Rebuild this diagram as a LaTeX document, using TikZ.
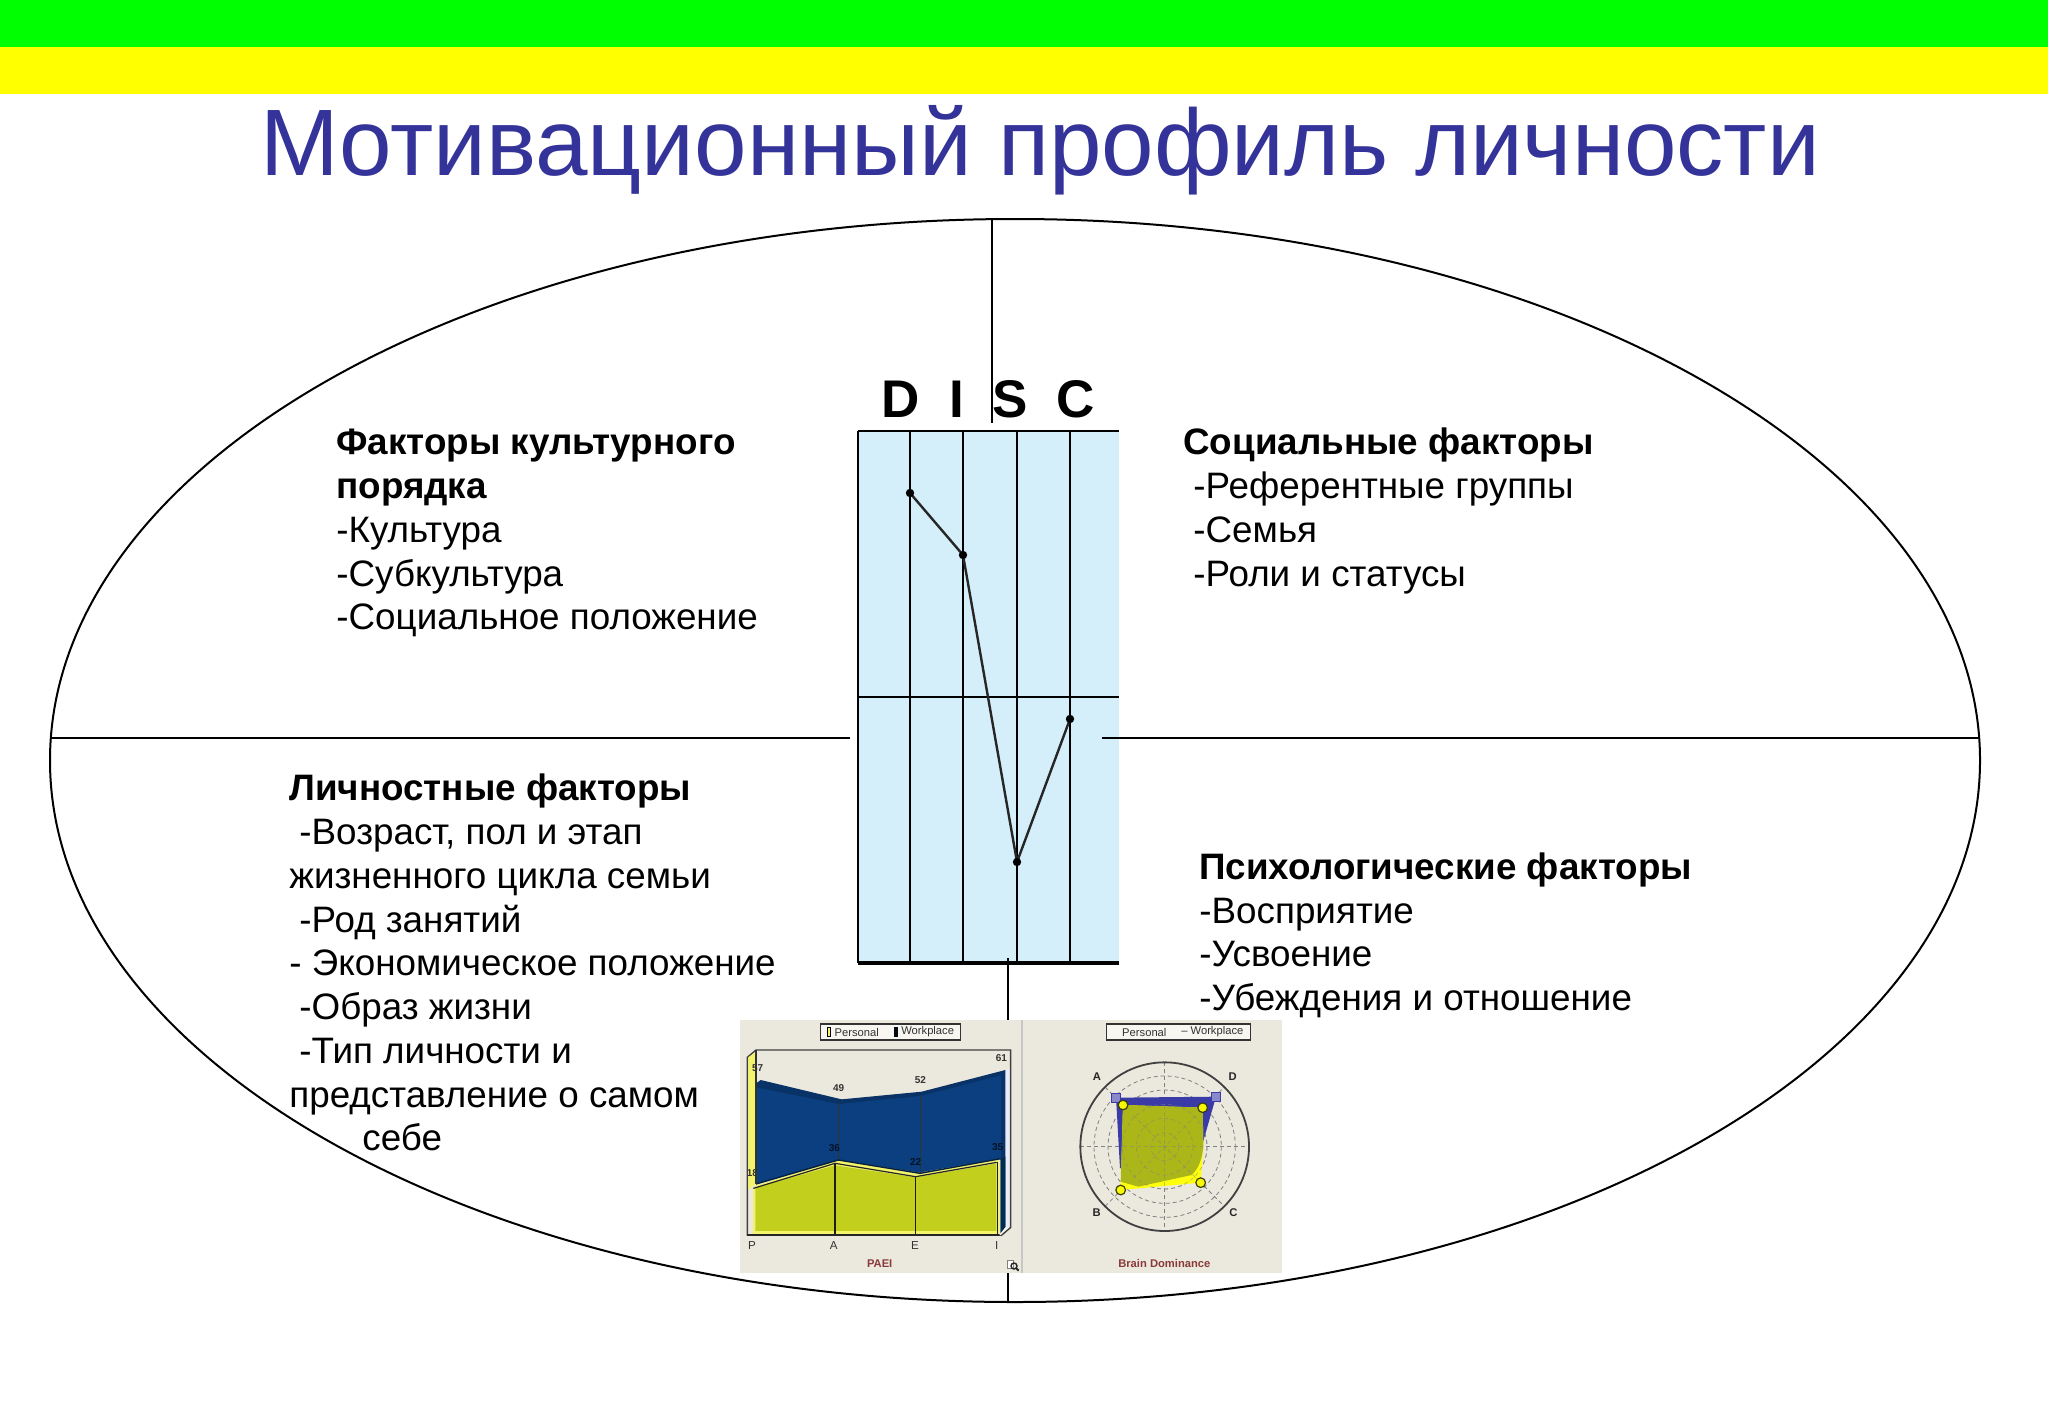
\documentclass[tikz,border=0pt]{standalone}
\usepackage{fontspec}
\setmainfont{Liberation Sans}
\definecolor{titleblue}{HTML}{333399}
\definecolor{discblue}{HTML}{D4EFF9}
\definecolor{panel}{HTML}{EBE9DD}
\definecolor{navy}{HTML}{0B3F80}
\definecolor{olive}{HTML}{C2CF1C}
\definecolor{redlab}{HTML}{8A3A3A}
\definecolor{graytxt}{HTML}{333333}
\definecolor{radblue}{HTML}{3B3BA8}
\definecolor{bandgreen}{HTML}{00FF00}
\definecolor{bandyellow}{HTML}{FFFF00}
\definecolor{paleyellow}{HTML}{F4F46A}
\newcommand{\firstline}{\rule{0pt}{14pt}}
\tikzset{
  thinline/.style={black,line width=1pt},
  body/.style={anchor=north west,inner sep=0pt,align=left,font=\fontsize{18.4}{21.875}\selectfont},
  disc/.style={font=\fontsize{26.5}{30}\selectfont\bfseries,inner sep=0pt,text=black},
  smalllab/.style={font=\fontsize{5.6}{6}\selectfont,text=graytxt,inner sep=0pt},
  numlab/.style={font=\fontsize{5}{5.5}\selectfont\bfseries,text=black!80,inner sep=0pt},
  axlab/.style={font=\fontsize{5.8}{6}\selectfont,text=graytxt,inner sep=0pt},
  charttitle/.style={font=\fontsize{5.6}{6}\selectfont\bfseries,text=redlab,inner sep=0pt},
  ring/.style={black!50,line width=0.4pt,dash pattern=on 2pt off 1.5pt},
}
\begin{document}
\begin{tikzpicture}[x=0.5pt,y=-0.5pt]
\useasboundingbox (0,0) rectangle (2048,1413);
\fill[white] (0,0) rectangle (2048,1413);
% top bands
\fill[bandgreen] (0,0) rectangle (2048,47);
\fill[bandyellow] (0,47) rectangle (2048,94);
% title
\node[name=title,anchor=base,inner sep=0pt,text=titleblue,font=\fontsize{47.2}{50}\selectfont] at (1040,175) {Мотивационный профиль личности};
% ellipse
\draw[thinline] (1015,760.5) ellipse [x radius=965, y radius=541.5];
% DISC panel
\fill[discblue] (858,431) rectangle (1119,963);
\draw[thinline] (858,431) -- (1119,431);
\draw[thinline] (858,697) -- (1119,697);
\draw[black,line width=1.2pt] (858,431) -- (858,963);
\foreach \xx in {910,963,1017,1070} \draw[thinline] (\xx,431) -- (\xx,963);
\draw[black,line width=2.2pt] (858,963) -- (1119,963);
\draw[black!85,line width=1.2pt] (910,493) coordinate (pd) -- (963,555) coordinate (pi) -- (1017,862) coordinate (ps) -- (1070,719) coordinate (pc);
\foreach \p in {pd,pi,ps,pc} \fill[black] (\p) circle [radius=4.2];
% axes
\draw[thinline] (50,738) coordinate (hl) -- (850,738) coordinate (hlend);
\draw[thinline] (1102,738) coordinate (hr) -- (1980,738) coordinate (hrend);
\draw[thinline] (992,219) coordinate (vt) -- (992,423) coordinate (vtend);
\draw[thinline] (1008,958) coordinate (vb) -- (1008,1302) coordinate (vbend);
\node[disc,name=dD] at (901,399) {D};
\node[disc,name=dI] at (957,399) {I};
\node[disc,name=dS] at (1010,399) {S};
\node[disc,name=dC] at (1076,399) {C};
% text blocks
\node[body,name=tl] at (336,426.5) {\firstline\textbf{Факторы культурного}\\\textbf{порядка}\\-Культура\\-Субкультура\\-Социальное положение};
\node[body,name=tr] at (1183,426.5) {\firstline\textbf{Социальные факторы}\\\hspace*{5pt}-Референтные группы\\\hspace*{5pt}-Семья\\\hspace*{5pt}-Роли и статусы};
\node[body,name=bl] at (289,772.5) {\firstline\textbf{Личностные факторы}\\\hspace*{5pt}-Возраст, пол и этап\\жизненного цикла семьи\\\hspace*{5pt}-Род занятий\\- Экономическое положение\\\hspace*{5pt}-Образ жизни\\\hspace*{5pt}-Тип личности и\\представление о самом\\\hspace*{36.5pt}себе};
\node[body,name=br] at (1199,851) {\firstline\textbf{Психологические факторы}\\-Восприятие\\-Усвоение\\-Убеждения и отношение};
% PAEI chart
\fill[panel] (740,1020) rectangle (1022,1273);
\fill[black!22] (1021,1020) rectangle (1023,1273);
\begin{scope}[shift={(730,1000)},scale=1/3]
  \draw[black!75,line width=0.7pt] (52,172) -- (78,150) -- (842,150) -- (842,682) -- (815,705) -- (52,705) -- cycle;
  \fill[paleyellow] (55,172) -- (78,155) -- (78,552) -- (55,570) -- cycle;
  \node[numlab,name=n18] at (67,518) {18};
  \fill[white!92!blue] (815,222) -- (838,205) -- (838,680) -- (815,700) -- cycle;
  \fill[navy!80!black] (78,250) -- (92,240) -- (335,298) -- (575,275) -- (826,210) -- (826,684) -- (812,700) -- (812,478) -- (570,520) -- (320,482) -- (78,552) -- cycle;
  \fill[navy] (78,262) -- (325,312) -- (572,288) -- (813,226) -- (813,478) -- (570,520) -- (320,482) -- (78,552) -- cycle;
  \fill[black!75!green!70!blue] (812,478) -- (826,470) -- (826,682) -- (812,698) -- cycle;
  \fill[paleyellow] (70,565) -- (80,556) -- (325,480) -- (568,518) -- (812,476) -- (800,487) -- (557,532) -- (315,496) -- cycle;
  \fill[paleyellow] (68,566) rectangle (76,702);
  \fill[olive] (76,563) -- (315,496) -- (557,532) -- (800,490) -- (800,700) -- (76,700) -- cycle;
  \fill[paleyellow] (70,692) -- (800,692) -- (800,702) -- (70,702) -- cycle;
  \fill[paleyellow] (800,490) -- (808,483) -- (808,700) -- (800,700) -- cycle;
  \draw[black!80,line width=0.7pt] (325,310) -- (325,482);
  \draw[black!80,line width=0.7pt] (572,285) -- (572,520);
  \draw[black!85!olive,line width=0.7pt] (315,490) -- (315,705);
  \draw[black!85!olive,line width=0.7pt] (557,530) -- (557,705);
  \draw[black!85!olive,line width=0.7pt] (802,487) -- (802,705);
  \draw[black!85,line width=0.9pt] (52,705) -- (815,705);
  \draw[black!85,line width=0.6pt] (70,565) -- (315,490) -- (557,530) -- (800,487);
  \draw[navy!50!black,line width=0.7pt] (78,552) -- (325,480) -- (570,520) -- (812,476);
  \draw[black!80,line width=0.7pt] (78,150) -- (78,552);
  \fill[panel!40!white] (815,705) -- (842,682) -- (826,682) -- (808,705) -- cycle;
  \draw[black!75,line width=0.6pt] (815,705) -- (842,682);
  \node[numlab,name=n57] at (83,203) {57};
  \node[numlab,name=n49] at (326,265) {49};
  \node[numlab,name=n52] at (571,240) {52};
  \node[numlab,name=n61] at (814,173) {61};
  \node[numlab,text=black!70!navy,name=n36] at (313,445) {36};
  \node[numlab,text=black!70!navy,name=n22] at (557,485) {22};
  \node[numlab,text=black!70!navy,name=n35] at (803,440) {35};
  % legend
  \draw[black!80,fill=panel!40!white,line width=0.6pt] (272,72) rectangle (692,120);
  \draw[black,fill=paleyellow,line width=0.5pt] (291,81) rectangle (301,110);
  \node[smalllab,name=lp] at (380,96) {Personal};
  \fill[black!85!navy] (491,81) rectangle (503,110);
  \node[smalllab,name=lw] at (593,96) {Workplace};
  % axis labels
  \node[axlab,name=aP] at (66,737) {P};
  \node[axlab,name=aA] at (311,737) {A};
  \node[axlab,name=aE] at (555,737) {E};
  \node[axlab,name=aI] at (800,737) {I};
  \node[charttitle,name=tp] at (449,790) {PAEI};
  % magnifier
  \draw[black!50,fill=white,line width=0.4pt] (832,780) rectangle (850,804);
  \draw[black!85,line width=0.7pt] (852,798) circle [radius=9];
  \draw[black!85,line width=0.9pt] (858,804) -- (866,812);
\end{scope}
% Brain chart
\fill[panel] (1023,1020) rectangle (1282,1273);
\begin{scope}[shift={(1010,1000)},scale=1/3]
  \draw[black!80,fill=panel!40!white,line width=0.6pt] (290,72) rectangle (722,120);
  \node[smalllab,name=rp] at (403,96) {Personal};
  \node[smalllab,name=rw] at (607,96) {– Workplace};
  \foreach \rr in {212,170,127,85,42} \draw[ring] (464,440) circle [radius=\rr];
  \draw[ring] (211,440) -- (717,440);
  \draw[ring] (464,187) -- (464,693);
  \draw[ring] (285,261) -- (643,619);
  \draw[ring] (285,619) -- (643,261);
  \draw[black!75,line width=0.9pt] (464,440) circle [radius=253];
  \fill[radblue] (318,293) -- (618,290) -- (578,430) -- (330,505) -- cycle;
  \fill[bandyellow!95!white] (339,315) -- (578,323) -- (580,440) -- (572,548) -- (332,570) -- cycle;
  \fill[olive!88!black] (339,315) -- (578,323) -- (580,440) .. controls (575,490) and (560,510) .. (545,525) -- (385,560) -- (332,545) -- cycle;
  \begin{scope}[opacity=0.45]
    \foreach \rr in {127,85,42} \draw[ring] (464,440) circle [radius=\rr];
    \draw[ring] (339,440) -- (580,440);
    \draw[ring] (464,315) -- (464,560);
    \draw[ring] (370,346) -- (560,536);
    \draw[ring] (370,534) -- (560,344);
  \end{scope}
  \foreach \cx/\cy in {318/293,618/290} \draw[radblue,fill=radblue!60!white,line width=0.4pt] (\cx-13,\cy-13) rectangle (\cx+13,\cy+13);
  \foreach \cx/\cy in {339/315,578/323,572/548,332/570} \draw[black!70!olive,fill=bandyellow!85!olive,line width=0.6pt] (\cx,\cy) circle [radius=14.5];
  \node[charttitle,text=black!85,name=qa] at (261,230) {A};
  \node[charttitle,text=black!85,name=qd] at (668,230) {D};
  \node[charttitle,text=black!85,name=qb] at (260,638) {B};
  \node[charttitle,text=black!85,name=qc] at (670,638) {C};
  \node[charttitle,name=tb] at (463,791) {Brain Dominance};
\end{scope}
\end{tikzpicture}
\end{document}
